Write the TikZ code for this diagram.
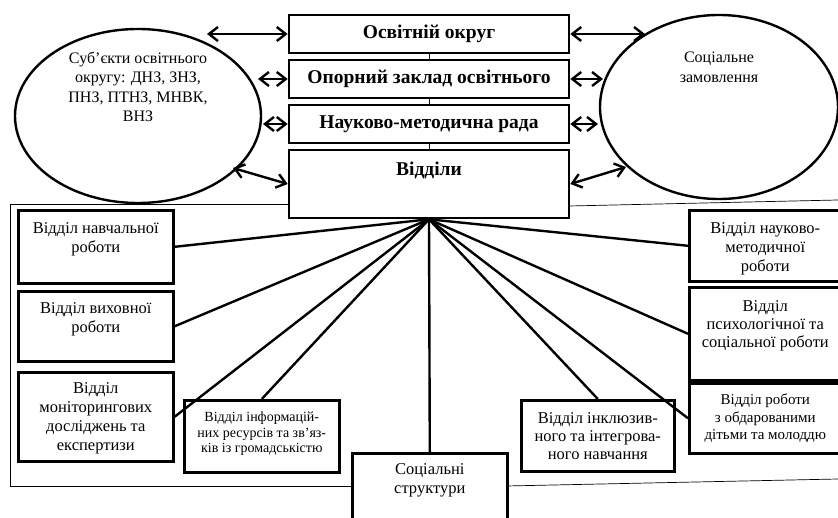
\documentclass[tikz,border=0pt]{standalone}
\usepackage{fontspec}
\setmainfont{Liberation Serif}
\usetikzlibrary{arrows.meta,shapes.geometric}

\tikzset{
  topbox/.style={draw, line width=2.6pt, fill=white, minimum width=280pt, inner sep=0pt,
    font=\bfseries\fontsize{19.5}{22}\selectfont},
  toptext/.style={anchor=north, inner sep=0pt, font=\bfseries\fontsize{19.5}{22}\selectfont},
  deptbox/.style={draw, line width=2.6pt, fill=white, inner sep=0pt, anchor=north west},
  depttext/.style={anchor=north, inner sep=0pt, align=center, font=\fontsize{16.5}{19}\selectfont},
  smalltext/.style={depttext, font=\fontsize{14}{15.5}\selectfont},
  oval/.style={draw, ellipse, line width=2.4pt, inner sep=0pt},
  fanline/.style={line width=2.4pt},
  frameline/.style={line width=0.7pt},
  biarrow/.style={line width=2.4pt,
    {Straight Barb[length=9pt,width=14pt]}-{Straight Barb[length=9pt,width=14pt]}}
}

\begin{document}
\begin{tikzpicture}[x=1pt, y=-1pt]
		% Fix the picture size
		\useasboundingbox (0,0) rectangle (838,518);
		\clip (0,0) rectangle (838,518);

		% Draw the outer frame
		\draw[frameline] (289,204) -- (10,204) -- (10,486) -- (351,486);
		\draw[frameline] (569,206) -- (838,200);
		\draw[frameline] (506,486) -- (838,479);

		% Draw the two ovals
		\node[oval, minimum width=246pt, minimum height=174pt] (subj) at (138,116) {};
		\node[depttext, font=\fontsize{16}{19.5}\selectfont] at ([yshift=-24pt]subj.north) {Суб’єкти освітнього\\округу: ДНЗ, ЗНЗ,\\ПНЗ, ПТНЗ, МНВК,\\ВНЗ};
		\node[oval, minimum width=238pt, minimum height=184pt] (zamov) at (719,107) {};
		\node[depttext, font=\fontsize{16}{20}\selectfont] at ([yshift=-38pt]zamov.north) {Соціальне\\замовлення};

		% Draw the central column
		\node[topbox, minimum height=38pt] (okrug) at (429,34) {Освітній округ};
		\node[topbox, minimum height=38pt] (opora) at (429,79) {Опорний заклад освітнього};
		\node[topbox, minimum height=38pt] (rada) at (429,124) {Науково-методична рада};
		\node[topbox, minimum height=68pt] (viddily) at (429,184) {};
		\node[toptext] at ([yshift=-13pt]viddily.north) {Відділи};
		\foreach \a/\b in {okrug/opora, opora/rada, rada/viddily}
			\draw[thin] (\a.south) -- (\b.north);

		% Draw the departments
		\node[deptbox, minimum width=155pt, minimum height=73pt] (navch) at (17,209) {};
		\node[depttext] at ([yshift=-13pt]navch.north) {Відділ навчальної\\роботи};
		\node[deptbox, minimum width=155pt, minimum height=70pt] (vykh) at (17,290) {};
		\node[depttext] at ([yshift=-12pt]vykh.north) {Відділ виховної\\роботи};
		\node[deptbox, minimum width=155pt, minimum height=89pt] (monit) at (17,371) {};
		\node[depttext] at ([yshift=-11pt]monit.north) {Відділ\\моніторингових\\досліджень та\\експертизи};
		\node[deptbox, minimum width=155pt, minimum height=72pt] (inform) at (183,399) {};
		\node[smalltext] at ([yshift=-13pt]inform.north) {Відділ інформацій-\\них ресурсів та зв’яз-\\ків із громадськістю};
		\node[deptbox, minimum width=155pt, minimum height=80pt] (social) at (351,452) {};
		\node[depttext] at ([yshift=-11pt]social.north) {Соціальні\\структури};
		\node[deptbox, minimum width=153pt, minimum height=71pt] (inkl) at (520,399) {};
		\node[depttext, font=\fontsize{16.5}{18.3}\selectfont] at ([yshift=-13pt]inkl.north) {Відділ інклюзив-\\ного та інтегрова-\\ного навчання};
		\node[deptbox, minimum width=152pt, minimum height=71pt] (naukmet) at (688,209) {};
		\node[depttext] at ([yshift=-13pt]naukmet.north) {Відділ науково-\\методичної\\роботи};
		\node[deptbox, minimum width=152pt, minimum height=93pt] (psykh) at (688,286) {};
		\node[depttext, font=\fontsize{16.5}{18}\selectfont] at ([yshift=-14pt]psykh.north) {Відділ\\психологічної та\\соціальної роботи};
		\node[deptbox, minimum width=152pt, minimum height=70pt] (obdar) at (688,382) {};
		\node[depttext, font=\fontsize{15}{17.5}\selectfont] at ([yshift=-12pt]obdar.north) {Відділ роботи\\з обдарованими\\дітьми та молоддю};

		% Draw lines from the departments block
		\foreach \d in {navch.east, vykh.east, monit.east, inform.north, social.north,
				inkl.north, obdar.west, psykh.west, naukmet.west} {
				\draw[fanline] (viddily.south) -- (\d);
			}

		% Draw two-way arrows to the ovals
		\coordinate (s1) at (207,34);
		\coordinate (s2) at (258,79);
		\coordinate (s3) at (263,124);
		\coordinate (s4) at (233,168);
		\coordinate (z1) at (645,34);
		\coordinate (z2) at (603,79);
		\coordinate (z3) at (598,124);
		\coordinate (z4) at (626,167);
		\draw[biarrow] (s1) -- (okrug.west);
		\draw[biarrow] (s2) -- (opora.west);
		\draw[biarrow] (s3) -- (rada.west);
		\draw[biarrow] (s4) -- (viddily.west);
		\draw[biarrow] (okrug.east) -- (z1);
		\draw[biarrow] (opora.east) -- (z2);
		\draw[biarrow] (rada.east) -- (z3);
		\draw[biarrow] (viddily.east) -- (z4);
	\end{tikzpicture}
\end{document}
